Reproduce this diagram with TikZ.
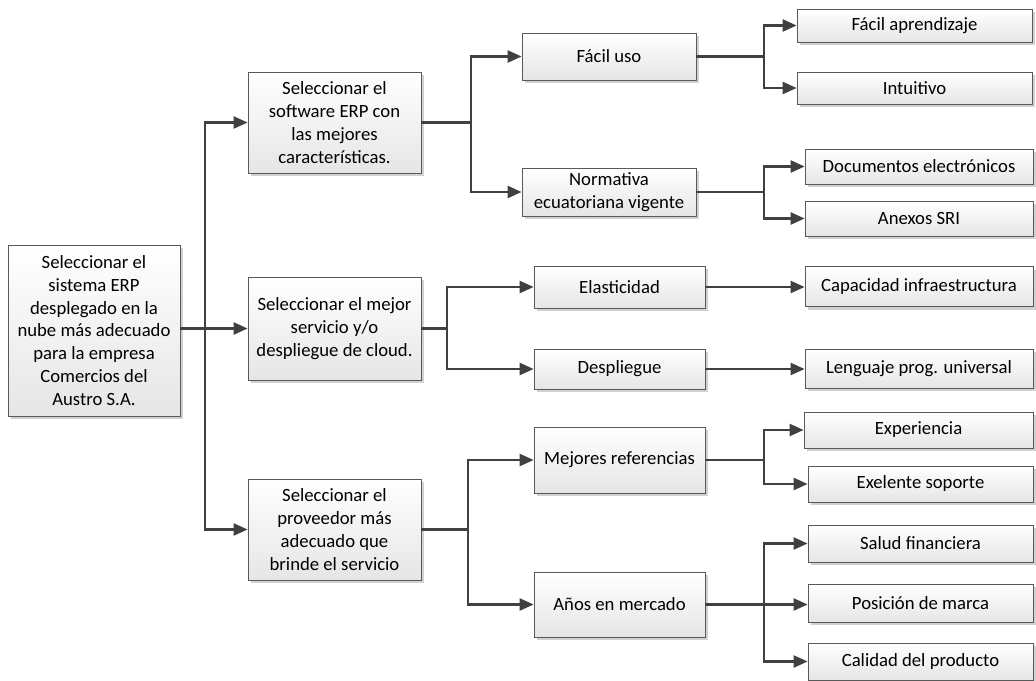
\documentclass[tikz,border=0pt]{standalone}
\usepackage{fontspec}
\setmainfont{Carlito}
\usepackage{tikz}
\usetikzlibrary{arrows.meta,shadows}

\definecolor{linea}{HTML}{404040}

\begin{document}
\begin{tikzpicture}[x=1pt,y=-1pt]
        \tikzstyle{every node}=[font=\fontsize{18.7}{22.8}\selectfont];
        \tikzstyle{caja}=[draw=black!65, line width=0.8pt, rectangle, inner sep=0pt, align=center,
            top color=white, bottom color=black!10,
            drop shadow={shadow xshift=3pt, shadow yshift=-3pt, fill=black!18, opacity=1}];
        \tikzstyle{linea}=[draw=linea, line width=2.4pt];
        \tikzstyle{flecha}=[linea, -{Triangle[length=14pt,width=12pt]}];
        \useasboundingbox (0,0) rectangle (1036,680);

        % nivel 0
        \node[caja, minimum width=172, minimum height=171] (raiz) at (94,330.5)
            {Seleccionar el\\sistema ERP\\desplegado en la\\nube más adecuado\\para la empresa\\Comercios del\\Austro S.A.};

        % nivel 1
        \node[caja, minimum width=173, minimum height=101] (software) at (334.5,122.5)
            {Seleccionar el\\software ERP con\\las mejores\\características.};
        \node[caja, minimum width=173, minimum height=103] (servicio) at (334.5,328.5)
            {Seleccionar el mejor\\servicio y/o\\despliegue de cloud.};
        \node[caja, minimum width=173, minimum height=101] (proveedor) at (334.5,529.5)
            {Seleccionar el\\proveedor más\\adecuado que\\brinde el servicio};

        % nivel 2
        \node[caja, minimum width=174, minimum height=47] (uso) at (609,56.5) {Fácil uso};
        \node[caja, minimum width=174, minimum height=48] (normativa) at (609,192)
            {Normativa\\ecuatoriana vigente};
        \node[caja, minimum width=171, minimum height=42] (elasticidad) at (619.5,287) {Elasticidad};
        \node[caja, minimum width=171, minimum height=40] (despliegue) at (619.5,369) {Despliegue};
        \node[caja, minimum width=171, minimum height=66] (referencias) at (619.5,460) {Mejores referencias};
        \node[caja, minimum width=171, minimum height=65] (anios) at (619.5,604.5) {Años en mercado};

        % nivel 3
        \node[caja, minimum width=235, minimum height=33] (aprendizaje) at (914.5,25.5) {Fácil aprendizaje};
        \node[caja, minimum width=235, minimum height=32] (intuitivo) at (914.5,88) {Intuitivo};
        \node[caja, minimum width=228, minimum height=35] (documentos) at (919,166.5) {Documentos electrónicos};
        \node[caja, minimum width=228, minimum height=35] (anexos) at (919,218.5) {Anexos SRI};
        \node[caja, minimum width=228, minimum height=40] (capacidad) at (919,286.5) {Capacidad infraestructura};
        \node[caja, minimum width=228, minimum height=39] (lenguaje) at (919,368.5) {Lenguaje prog. universal};
        \node[caja, minimum width=229, minimum height=36] (experiencia) at (918.5,430) {Experiencia};
        \node[caja, minimum width=225, minimum height=36] (soporte) at (920.5,484) {Exelente soporte};
        \node[caja, minimum width=225, minimum height=37] (salud) at (920.5,543.5) {Salud financiera};
        \node[caja, minimum width=225, minimum height=38] (marca) at (920.5,603) {Posición de marca};
        \node[caja, minimum width=225, minimum height=37] (calidad) at (920.5,661.5) {Calidad del producto};

        % puntos de bifurcacion
        \coordinate (b0) at (205,328.5);
        \coordinate (b1) at (471,122.5);
        \coordinate (b2) at (447,328.5);
        \coordinate (b3) at (468,529.5);
        \coordinate (b4) at (764,56.5);
        \coordinate (b5) at (764,192);
        \coordinate (b6) at (764,460);
        \coordinate (b7) at (764,604.5);

        % conectores
        \draw[flecha] (raiz.east |- b0) -- (servicio.west);
        \draw[flecha] (b0) |- (software.west);
        \draw[flecha] (b0) |- (proveedor.west);

        \draw[linea] (software.east) -- (b1);
        \draw[flecha] (b1) |- (uso.west);
        \draw[flecha] (b1) |- (normativa.west);

        \draw[linea] (servicio.east) -- (b2);
        \draw[flecha] (b2) |- (elasticidad.west);
        \draw[flecha] (b2) |- (despliegue.west);

        \draw[linea] (proveedor.east) -- (b3);
        \draw[flecha] (b3) |- (referencias.west);
        \draw[flecha] (b3) |- (anios.west);

        \draw[linea] (uso.east) -- (b4);
        \draw[flecha] (b4) |- (aprendizaje.west);
        \draw[flecha] (b4) |- (intuitivo.west);

        \draw[linea] (normativa.east) -- (b5);
        \draw[flecha] (b5) |- (documentos.west);
        \draw[flecha] (b5) |- (anexos.west);

        \draw[flecha] (elasticidad.east) -- (capacidad.west |- elasticidad.east);
        \draw[flecha] (despliegue.east) -- (lenguaje.west |- despliegue.east);

        \draw[linea] (referencias.east) -- (b6);
        \draw[flecha] (b6) |- (experiencia.west);
        \draw[flecha] (b6) |- (soporte.west);

        \draw[linea] (anios.east) -- (b7);
        \draw[flecha] (b7) |- (salud.west);
        \draw[flecha] (b7) -- (marca.west |- b7);
        \draw[flecha] (b7) |- (calidad.west);
\end{tikzpicture}
\end{document}
